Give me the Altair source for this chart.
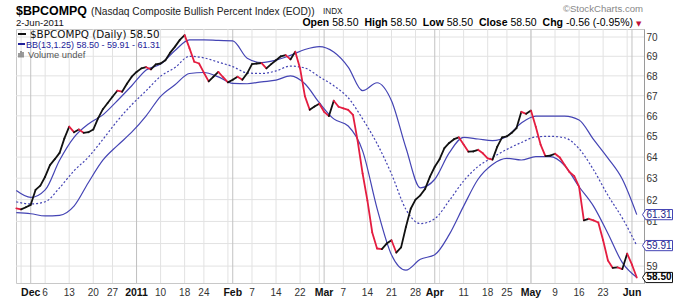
import altair as alt
import pandas as pd

# ---------------- data ----------------
holidays = ["2010-11-25", "2010-12-24", "2011-01-17", "2011-02-21", "2011-04-22", "2011-05-30"]
trading_days = [d.strftime("%Y-%m-%d") for d in pd.bdate_range("2010-11-26", "2011-06-02")
                if d.strftime("%Y-%m-%d") not in holidays]

close = [61.60, 61.55, 61.65, 61.76, 62.45, 62.65, 63.07, 63.62, 63.90, 64.20, 64.90, 65.47, 65.20,
         65.33, 65.17, 65.20, 65.33, 65.88, 66.33, 66.64, 66.95, 67.25, 67.20,
         67.60, 67.96, 68.20, 68.38, 68.44, 68.33, 68.58, 68.63, 68.80, 69.19,
         69.50, 69.85, 70.10, 69.42, 68.72, 68.63, 68.16, 67.72, 67.96, 68.20,
         67.93, 67.67, 67.80, 67.96, 67.80, 68.13, 68.60, 68.63, 68.65, 68.38,
         68.60, 68.80, 69.00, 69.06, 68.84, 69.24, 68.38, 66.98, 66.30, 66.46,
         66.60, 66.20, 65.99, 66.75, 66.45, 66.37, 66.30, 66.05, 64.73, 63.22,
         61.95, 60.50, 59.78, 59.75, 60.00, 60.15, 59.60, 59.83, 60.75, 61.58,
         62.00, 62.20, 62.50, 63.07, 63.54, 63.90, 64.43, 64.68, 64.86, 64.95,
         64.60, 64.26, 64.27, 64.35, 64.18, 63.94, 63.88, 64.50, 64.95, 65.00,
         65.17, 65.40, 66.20, 66.10, 66.26, 65.47, 64.60, 64.05, 64.07, 64.16,
         63.98, 63.62, 63.29, 63.10, 62.60, 61.05, 61.12, 61.05, 60.95, 60.15,
         59.25, 58.92, 58.94, 58.87, 59.55, 59.06, 58.50]

band_step = 3  # bands read every third trading day
upper = [62.42, 62.10, 62.45, 63.85, 64.95, 65.60, 66.05, 66.75, 67.50, 68.30,
         68.60, 69.30, 69.85, 69.85, 69.82, 69.80, 68.90, 68.68, 68.80, 69.05,
         69.35, 69.50, 69.22, 68.45, 67.25, 67.65, 66.75, 64.45, 62.55, 62.95,
         64.20, 64.95, 64.87, 64.79, 65.00, 65.65, 65.99, 65.99, 65.99, 65.80,
         64.85, 63.95, 62.95, 61.31]
middle = [61.90, 61.80, 61.90, 62.55, 63.35, 64.00, 64.85, 65.75, 66.55, 67.25,
          67.98, 68.42, 69.00, 68.92, 68.70, 68.47, 68.15, 68.12, 68.25, 68.50,
          68.40, 67.95, 67.50, 66.90, 65.85, 64.65, 63.20, 61.55, 60.90, 61.12,
          61.95, 62.87, 63.55, 63.98, 64.37, 64.70, 64.97, 65.00, 64.93, 64.40,
          63.40, 62.20, 61.15, 59.91]
lower = [61.40, 61.35, 61.25, 61.28, 61.70, 62.80, 63.85, 64.55, 65.20, 66.00,
         66.97, 67.55, 68.12, 68.17, 67.95, 67.62, 67.60, 67.70, 67.78, 68.00,
         67.60, 66.65, 65.85, 65.50, 64.30, 61.60, 59.50, 58.82, 59.30, 59.50,
         60.40, 61.70, 62.95, 63.65, 63.94, 63.86, 64.02, 64.02, 63.60, 62.60,
         61.70, 60.45, 59.15, 58.50]

week_lines = ["2010-11-29", "2010-12-06", "2010-12-13", "2010-12-20", "2010-12-27", "2011-01-03",
              "2011-01-10", "2011-01-18", "2011-01-24", "2011-01-31", "2011-02-07", "2011-02-14",
              "2011-02-22", "2011-02-28", "2011-03-07", "2011-03-14", "2011-03-21", "2011-03-28",
              "2011-04-04", "2011-04-11", "2011-04-18", "2011-04-25", "2011-05-02", "2011-05-09",
              "2011-05-16", "2011-05-23", "2011-05-31"]
month_lines = ["2010-12-01", "2011-01-03", "2011-02-01", "2011-03-01", "2011-04-01", "2011-05-02", "2011-06-01"]
tick_dates = ["2010-12-01", "2010-12-06", "2010-12-13", "2010-12-20", "2010-12-27", "2011-01-03",
              "2011-01-10", "2011-01-18", "2011-01-24", "2011-02-01", "2011-02-07", "2011-02-14",
              "2011-02-22", "2011-03-01", "2011-03-07", "2011-03-14", "2011-03-21", "2011-03-28",
              "2011-04-01", "2011-04-11", "2011-04-18", "2011-04-25", "2011-05-02", "2011-05-09",
              "2011-05-16", "2011-05-23", "2011-06-01"]
tick_labels = ["Dec", "6", "13", "20", "27", "2011", "10", "18", "24", "Feb", "7", "14", "22",
               "Mar", "7", "14", "21", "28", "Apr", "11", "18", "25", "May", "9", "16", "23", "Jun"]
month_labels = ["Dec", "2011", "Feb", "Mar", "Apr", "May", "Jun"]
y_grid = list(range(59, 71))
y_labels = [59, 61, 62, 63, 64, 65, 66, 67, 68, 69, 70]   # "60" sits under the 59.91 box

# ---------------- tables ----------------
W, H = 628, 254
pos = {d: i for i, d in enumerate(trading_days)}

seg_df = pd.DataFrame({
    "k": list(range(len(close) - 1)),
    "k2": list(range(1, len(close))),
    "v": close[:-1],
    "v2": close[1:],
    "dir": ["down" if b < a else "up" for a, b in zip(close[:-1], close[1:])],
})
band_k = list(range(0, len(trading_days), band_step))
band_df = pd.DataFrame({"k": band_k * 2, "v": upper + lower,
                        "s": ["upper"] * len(upper) + ["lower"] * len(lower)})
mid_df = pd.DataFrame({"k": band_k, "v": middle})
week_df = pd.DataFrame({"k": [pos[d] for d in week_lines]})
month_df = pd.DataFrame({"k": [pos[d] for d in month_lines]})
hgrid_df = pd.DataFrame({"v": y_grid})
tick_df = pd.DataFrame({"k": [pos[d] for d in tick_dates], "label": tick_labels})
tick_df["month"] = tick_df["label"].isin(month_labels)
box_blue = pd.DataFrame({"v": [upper[-1], middle[-1]],
                         "t": [f"{upper[-1]:.2f}", f"{middle[-1]:.2f}"]})
box_black = pd.DataFrame({"v": [close[-1]], "t": [f"{close[-1]:.2f}"]})
one = pd.DataFrame({"a": [0]})

xs = alt.Scale(domain=[-0.06, 130.5], nice=False, zero=False)
ys = alt.Scale(type="log", domain=[58.26, 70.42], nice=False, zero=False)
yaxis = alt.Axis(orient="right", values=y_labels, format="d", grid=False,
                 domainColor="#9a9a9a", ticks=False, labelPadding=2,
                 labelFont="Liberation Sans", labelFontSize=10, labelColor="#333333",
                 labelBaseline="middle", labelOffset=0.5, title=None)


def X(f):
    return alt.X(f, type="quantitative", scale=xs, axis=None)


def Y(f):
    return alt.Y(f, type="quantitative", scale=ys, axis=yaxis)


BLUE = "#4444b4"
RED = "#e41d40"
layers = []

layers.append(alt.Chart(hgrid_df).mark_rule(color="#e2e2e2", strokeWidth=1).encode(y=Y("v")))
layers.append(alt.Chart(week_df).mark_rule(color="#e2e2e2", strokeWidth=1).encode(x=X("k")))
layers.append(alt.Chart(month_df).mark_rule(color="#c2c2c2", strokeWidth=1).encode(x=X("k")))
layers.append(alt.Chart(band_df).mark_line(color=BLUE, strokeWidth=1.2, interpolate="monotone").encode(
    x=X("k"), y=Y("v"), detail="s:N"))
layers.append(alt.Chart(mid_df).mark_line(color=BLUE, strokeWidth=1.2, strokeDash=[2, 2],
                                          interpolate="monotone").encode(x=X("k"), y=Y("v")))
layers.append(alt.Chart(seg_df).mark_rule(strokeWidth=1.8, strokeCap="round").encode(
    x=X("k"), x2="k2", y=Y("v"), y2="v2",
    color=alt.Color("dir:N", scale=alt.Scale(domain=["up", "down"], range=["#111111", RED]), legend=None)))

# bottom date labels
layers.append(alt.Chart(tick_df[~tick_df["month"]]).mark_text(
    font="Liberation Sans", fontSize=10, color="#333333", baseline="middle").encode(
    x=X("k"), y=alt.value(H + 10), text="label:N"))
layers.append(alt.Chart(tick_df[tick_df["month"]]).mark_text(
    font="Liberation Sans", fontSize=10.5, fontWeight="bold", color="#111111", baseline="middle").encode(
    x=X("k"), y=alt.value(H + 10), text="label:N"))

# right value boxes
box_path = "M-1,0L-0.78,-0.34L1,-0.34L1,0.34L-0.78,0.34Z"
layers.append(alt.Chart(box_blue).mark_point(shape=box_path, size=900, filled=True, fill="white",
                                             stroke=BLUE, strokeWidth=1, opacity=1).encode(
    x=alt.value(W + 13.5), y=Y("v")))
layers.append(alt.Chart(box_black).mark_point(shape=box_path, size=900, filled=True, fill="white",
                                              stroke="#111111", strokeWidth=1, opacity=1).encode(
    x=alt.value(W + 13.5), y=Y("v")))
layers.append(alt.Chart(box_blue).mark_text(font="Liberation Sans", fontSize=10, color="#22228a",
                                            baseline="middle").encode(
    x=alt.value(W + 15), y=Y("v"), text="t:N"))
layers.append(alt.Chart(box_black).mark_text(font="Liberation Sans", fontSize=10, fontWeight="bold",
                                             color="#000000", baseline="middle").encode(
    x=alt.value(W + 15), y=Y("v"), text="t:N"))


def txt(text, x, y, size, weight="normal", color="#000000", font="Liberation Sans", align="left"):
    return alt.Chart(one).mark_text(text=text, fontSize=size, fontWeight=weight, color=color,
                                    font=font, align=align, baseline="alphabetic").encode(
        x=alt.value(x), y=alt.value(y))


# header (plot origin is at page x=16, y=29)
layers.append(txt("$BPCOMPQ", 0, -14, 12.4, "bold"))
layers.append(txt("(Nasdaq Composite Bullish Percent Index (EOD))", 75, -14, 10.2, color="#222222"))
layers.append(txt("INDX", 307, -15, 8.2, color="#222222"))
layers.append(txt("2-Jun-2011", 0, -3, 9.6, color="#111111"))
layers.append(txt("\u00a9StockCharts.com", 627, -17, 9.6, color="#888888", align="right"))

ohlc = [("Open", "bold"), ("58.50", "normal"), ("High", "bold"), ("58.50", "normal"),
        ("Low", "bold"), ("58.50", "normal"), ("Close", "bold"), ("58.50", "normal"),
        ("Chg", "bold"), ("-0.56 (-0.95%)", "normal")]
ohlc_x = [286.4, 316.2, 348.4, 374.6, 406.8, 430.7, 462.9, 494.4, 526.6, 549.9]
for (t, w), xx in zip(ohlc, ohlc_x):
    layers.append(txt(t, xx, -3.5, 10.5, w, "#000000"))
layers.append(txt("\u25bc", 620, -3.5, 7, color="#c0103a", font="DejaVu Sans"))

# in-plot legend
layers.append(alt.Chart(one).mark_rule(color="#111111", strokeWidth=2).encode(
    x=alt.value(2), x2=alt.value(10), y=alt.value(5)))
layers.append(txt(f"$BPCOMPQ (Daily) {close[-1]:.2f}", 14, 9, 10.4, font="DejaVu Sans", color="#111111"))
layers.append(alt.Chart(one).mark_rule(color="#22229a", strokeWidth=2).encode(
    x=alt.value(2), x2=alt.value(9), y=alt.value(15)))
layers.append(txt(f"BB(13,1.25) {lower[-1]:.2f} - {middle[-1]:.2f} - {upper[-1]:.2f}", 10, 18.5, 9.0,
                  color="#22229a"))
for bx, top in [(3, 24), (5, 22), (7, 23)]:
    layers.append(alt.Chart(one).mark_rule(color="#666666", strokeWidth=1.3).encode(
        x=alt.value(bx), y=alt.value(top), y2=alt.value(28.5)))
layers.append(txt("Volume undef", 12, 28.5, 9.4, color="#555555"))

chart = alt.layer(*layers).properties(
    width=W, height=H,
    padding={"left": 16, "top": 29, "right": 30, "bottom": 17},
    autosize=alt.AutoSizeParams(type="none"),
).configure_view(stroke="#c8c8c8")

chart.save("out.html", embed_options={"renderer": "svg", "actions": False})
